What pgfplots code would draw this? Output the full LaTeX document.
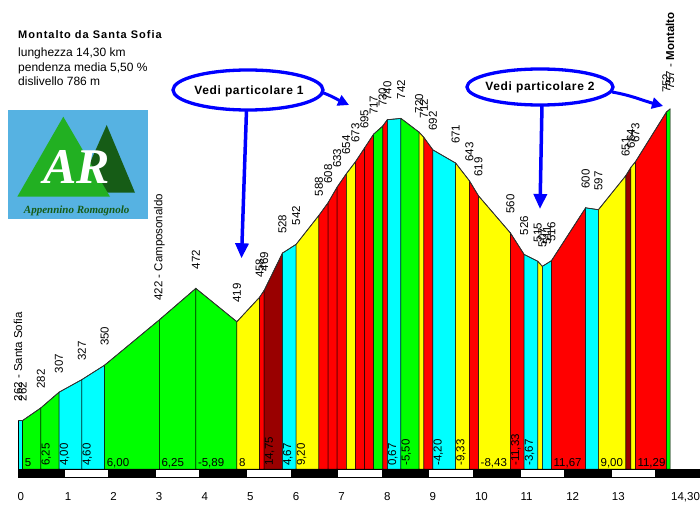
\documentclass[border=0pt]{standalone}
\usepackage{fontspec}
\setmainfont{Liberation Sans}
\newfontfamily\logofont{Liberation Serif}
\newfontfamily\spacedfont{Liberation Sans}[LetterSpace=9]
\newfontfamily\calloutfont{Liberation Sans}[LetterSpace=5.5]
\usepackage{pgfplots}
\usepackage{pgfplotstable}
\pgfplotsset{compat=1.18}
\usetikzlibrary{arrows.meta}
\definecolor{cG}{RGB}{0,255,0}
\definecolor{cC}{RGB}{0,255,255}
\definecolor{cY}{RGB}{255,255,0}
\definecolor{cR}{RGB}{255,0,0}
\definecolor{cD}{RGB}{153,0,0}
\definecolor{logoBlue}{RGB}{86,178,226}
\definecolor{logoGreen}{RGB}{34,176,34}
\definecolor{logoDark}{RGB}{22,92,22}
\definecolor{arrBlue}{RGB}{0,0,255}
\newcommand{\lf}{\fontsize{11.5bp}{13bp}\selectfont}
\newcommand{\seg}[5]{\addplot[fill=#1, draw=black, line width=0.5bp] coordinates {(#2,185) (#2,#3) (#4,#5) (#4,185)} --cycle;}
\newcommand{\el}[3]{\node[rotate=90,anchor=west,inner sep=0pt,font=\lf] at ([yshift=19bp]axis cs:#1,#2) {#3};}
\newcommand{\gh}[2]{\node[anchor=base west,inner sep=0pt,font=\lf] at ([xshift=2bp,yshift=2.5bp]axis cs:#1,185) {#2};}
\newcommand{\gv}[2]{\node[rotate=90,anchor=north west,inner sep=0pt,font=\lf] at ([xshift=0.5bp,yshift=3bp]axis cs:#1,185) {#2};}
\pgfplotstableread{
x h
0 262
0.1 262
0.5 282
0.9 307
1.4 327
1.9 350
3.1 422
3.9 472
4.8 419
5.3 458
5.4 469
5.8 528
6.1 542
6.6 588
6.8 608
7.0 633
7.2 654
7.4 673
7.6 695
7.8 717
8.0 730
8.1 740
8.4 742
8.8 720
8.9 712
9.1 692
9.6 671
9.9 643
10.1 619
10.8 560
11.1 526
11.4 515
11.5 507
11.7 516
12.45 600
12.73 597
13.33 651
13.44 664
13.54 673
14.22 752
14.3 757
}\profile
\begin{document}
\begin{tikzpicture}
\useasboundingbox (0bp,0bp) rectangle (700bp,508bp);
\begin{axis}[at={(18bp,39bp)}, anchor=south west, scale only axis, width=652bp, height=360bp,
  xmin=0, xmax=14.3, ymin=185, ymax=757, hide axis, clip=false]
\seg{cC}{0}{262}{0.1}{262}
\seg{cG}{0.1}{262}{0.5}{282}
\seg{cG}{0.5}{282}{0.9}{307}
\seg{cC}{0.9}{307}{1.4}{327}
\seg{cC}{1.4}{327}{1.9}{350}
\seg{cG}{1.9}{350}{3.1}{422}
\seg{cG}{3.1}{422}{3.9}{472}
\seg{cG}{3.9}{472}{4.8}{419}
\seg{cY}{4.8}{419}{5.3}{458}
\seg{cR}{5.3}{458}{5.4}{469}
\seg{cD}{5.4}{469}{5.8}{528}
\seg{cC}{5.8}{528}{6.1}{542}
\seg{cY}{6.1}{542}{6.6}{588}
\seg{cR}{6.6}{588}{6.8}{608}
\seg{cR}{6.8}{608}{7.0}{633}
\seg{cR}{7.0}{633}{7.2}{654}
\seg{cY}{7.2}{654}{7.4}{673}
\seg{cR}{7.4}{673}{7.6}{695}
\seg{cR}{7.6}{695}{7.8}{717}
\seg{cG}{7.8}{717}{8.0}{730}
\seg{cR}{8.0}{730}{8.1}{740}
\seg{cC}{8.1}{740}{8.4}{742}
\seg{cG}{8.4}{742}{8.8}{720}
\seg{cY}{8.8}{720}{8.9}{712}
\seg{cR}{8.9}{712}{9.1}{692}
\seg{cC}{9.1}{692}{9.6}{671}
\seg{cY}{9.6}{671}{9.9}{643}
\seg{cR}{9.9}{643}{10.1}{619}
\seg{cY}{10.1}{619}{10.8}{560}
\seg{cR}{10.8}{560}{11.1}{526}
\seg{cC}{11.1}{526}{11.4}{515}
\seg{cY}{11.4}{515}{11.5}{507}
\seg{cC}{11.5}{507}{11.7}{516}
\seg{cR}{11.7}{516}{12.45}{600}
\seg{cC}{12.45}{600}{12.73}{597}
\seg{cY}{12.73}{597}{13.33}{651}
\seg{cD}{13.33}{651}{13.44}{664}
\seg{cY}{13.44}{664}{13.54}{673}
\seg{cR}{13.54}{673}{14.22}{752}
\seg{cG}{14.22}{752}{14.3}{757}
\addplot[black!80, line width=0.8bp] table[x=x,y=h] {\profile};
% elevation labels
\el{0}{262}{262 - Santa Sofia}
\el{0.1}{262}{262}
\el{0.5}{282}{282}
\el{0.9}{307}{307}
\el{1.4}{327}{327}
\el{1.9}{350}{350}
\el{3.1}{422}{422 - Camposonaldo}
\el{3.9}{472}{472}
\el{4.8}{419}{419}
\el{5.3}{458}{458}
\el{5.4}{469}{469}
\el{5.8}{528}{528}
\el{6.1}{542}{542}
\el{6.6}{588}{588}
\el{6.8}{608}{608}
\el{7.0}{633}{633}
\el{7.2}{654}{654}
\el{7.4}{673}{673}
\el{7.6}{695}{695}
\el{7.8}{717}{717}
\el{8.0}{730}{730}
\el{8.1}{740}{740}
\el{8.4}{742}{742}
\el{8.8}{720}{720}
\el{8.9}{712}{712}
\el{9.1}{692}{692}
\el{9.6}{671}{671}
\el{9.9}{643}{643}
\el{10.1}{619}{619}
\el{10.8}{560}{560}
\el{11.1}{526}{526}
\el{11.4}{515}{515}
\el{11.5}{507}{507}
\el{11.6}{511}{511}
\el{11.7}{516}{516}
\el{12.45}{600}{600}
\el{12.73}{597}{597}
\el{13.33}{651}{651}
\el{13.44}{664}{664}
\el{13.54}{673}{673}
\el{14.22}{752}{752}
\el{14.3}{757}{757 - \textbf{Montalto}}
% gradient labels
\gh{0.1}{5}
\gv{0.5}{6,25}
\gv{0.9}{4,00}
\gv{1.4}{4,60}
\gh{1.9}{6,00}
\gh{3.1}{6,25}
\gh{3.9}{-5,89}
\gh{4.8}{8}
\gv{5.4}{14,75}
\gv{5.8}{4,67}
\gv{6.1}{9,20}
\gv{8.1}{0,67}
\gv{8.4}{-5,50}
\gv{9.1}{-4,20}
\gv{9.6}{-9,33}
\gh{10.1}{-8,43}
\gv{10.8}{-11,33}
\gv{11.1}{-3,67}
\gh{11.7}{11,67}
\gh{12.73}{9,00}
\gh{13.54}{11,29}
\end{axis}
\begin{scope}[x=1bp,y=1bp]
% header text
\node[anchor=base west,inner sep=0pt,font=\spacedfont\fontsize{11bp}{13bp}\selectfont\bfseries] at (18,469) {Montalto da Santa Sofia};
\node[anchor=base west,inner sep=0pt,font=\fontsize{12bp}{14bp}\selectfont] at (18,451.3) {lunghezza 14,30 km};
\node[anchor=base west,inner sep=0pt,font=\fontsize{12bp}{14bp}\selectfont] at (18,436) {pendenza media 5,50 \%};
\node[anchor=base west,inner sep=0pt,font=\fontsize{12bp}{14bp}\selectfont] at (18,422) {dislivello 786 m};
% logo
\fill[logoBlue] (8.3,288.7) rectangle (147.7,398);
\fill[logoDark] (76.7,315.3) -- (106.7,383) -- (135,315.3) -- cycle;
\fill[logoGreen] (17.3,311.3) -- (63.3,391.3) -- (110,311.3) -- cycle;
\node[text=white,inner sep=0pt,font=\logofont\fontsize{50bp}{50bp}\selectfont\bfseries\itshape] at (76.7,341) {AR};
\node[text=logoDark,inner sep=0pt,font=\logofont\fontsize{11bp}{12bp}\selectfont\bfseries\itshape] at (76.7,297.5) {Appennino Romagnolo};
% scale bar
\fill[black] (18,30) rectangle (700,39);
\foreach \a/\b in {63.59/109.19,154.78/200.38,245.97/291.57,337.16/382.76,428.35/473.94,519.54/565.13,610.73/656.32}{
  \fill[white] (\a+1,31.3) rectangle (\b-1,37.8);
}
% km labels
\foreach \k/\xx in {0/17.5,1/64.6,2/110.2,3/155.8,4/201.4,5/247,6/292.6,7/338.2,8/383.8,9/429.4,10/474.9,11/520.5,12/566.1,13/611.7,{14,30}/671}{
  \node[anchor=base west,inner sep=0pt,font=\lf] at (\xx,7.3) {\k};
}
% callouts
\draw[arrBlue, line width=3.3bp] (248,418) ellipse [x radius=75, y radius=20];
\node[inner sep=0pt,font=\calloutfont\fontsize{12bp}{14bp}\selectfont\bfseries] at (249,417) {Vedi particolare 1};
\draw[arrBlue, line width=3bp, -{Triangle[length=11bp,width=11bp]}] (321,416) to[out=-20,in=155] (349,403);
\draw[arrBlue, line width=3.5bp, -{Triangle[length=15bp,width=13bp]}] (246.5,398) -- (241.5,249.7);
\draw[arrBlue, line width=3.3bp] (540,421) ellipse [x radius=73, y radius=18];
\node[inner sep=0pt,font=\calloutfont\fontsize{12bp}{14bp}\selectfont\bfseries] at (540,421) {Vedi particolare 2};
\draw[arrBlue, line width=3bp, -{Triangle[length=11bp,width=11bp]}] (612,416) to[out=-10,in=165] (663,402);
\draw[arrBlue, line width=3.5bp, -{Triangle[length=15bp,width=13bp]}] (542,403) -- (540,299);
\end{scope}
\end{tikzpicture}
\end{document}
